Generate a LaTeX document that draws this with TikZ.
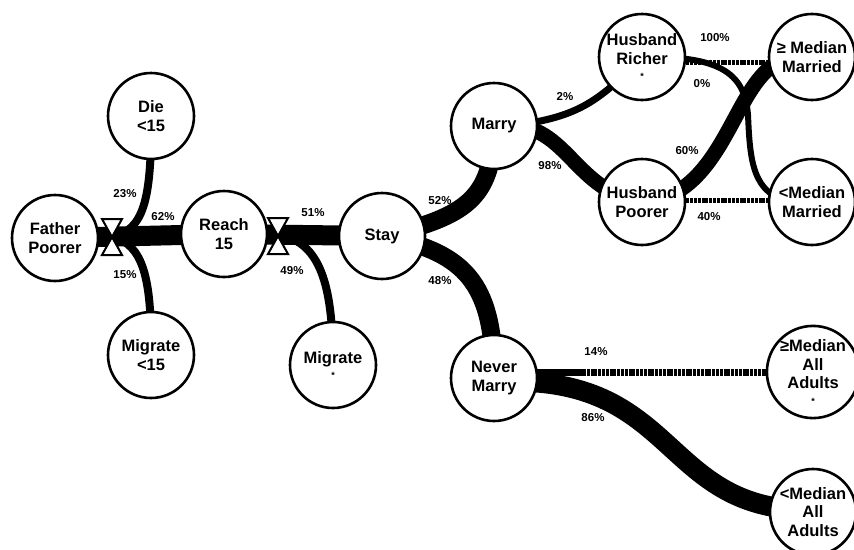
\documentclass[tikz,border=0pt]{standalone}
\usepackage{fontspec}
\setmainfont{Liberation Sans}
\usetikzlibrary{backgrounds}
\begin{document}
\begin{tikzpicture}[x=1pt,y=-1pt,
  state/.style={circle,draw,line width=2.6pt,fill=white,minimum size=86pt,inner sep=0pt,
    align=center,font=\fontsize{16.5}{18.5}\selectfont\bfseries},
  band/.style={line width=#1,line cap=butt},
  hatch/.style={line width=#1,dash pattern=on 3pt off 0.8pt},
  pct/.style={font=\fontsize{11.5}{13}\selectfont\bfseries},
  valve/.style={draw,fill=white,line width=2pt,line join=miter}]
\useasboundingbox (0,0) rectangle (854,549);
% nodes
\node[state] (fp) at (55,238) {Father\\Poorer};
\node[state] (die) at (151,116) {Die\\<15};
\node[state] (m15) at (151,355) {Migrate\\<15};
\node[state] (r15) at (224,234) {Reach\\15};
\node[state] (stay) at (382,236) {Stay};
\node[state] (mig) at (333,365) {Migrate\\[-3pt]{\fontsize{9}{9}\selectfont *}};
\node[state] (marry) at (494,126) {Marry};
\node[state] (nm) at (494,378) {Never\\Marry};
\node[state] (hr) at (642,57) {Husband\\Richer\\[-3pt]{\fontsize{9}{9}\selectfont *}};
\node[state] (hp) at (642,202) {Husband\\Poorer};
\node[state] (gmm) at (812,57) {≥ Median\\Married};
\node[state] (lmm) at (812,202) {<Median\\Married};
\node[state] (gaa) at (813,372) {≥Median\\All\\Adults\\[-3pt]{\fontsize{9}{9}\selectfont *}};
\node[state] (laa) at (813,512) {<Median\\All\\Adults};
\coordinate (v1) at (112,237);
\coordinate (v2) at (278,236);
% bands
\begin{scope}[on background layer]
\draw[band=20pt] (fp.center) -- (r15.center);
\draw[band=20pt] (r15.center) -- (stay.center);
\draw[band=8pt] ([xshift=2pt]v1) .. controls (142,228) and (152,205) .. (die.center);
\draw[band=8pt] ([xshift=2pt]v1) .. controls (142,246) and (152,275) .. (m15.center);
\draw[band=8pt] ([xshift=6pt]v2) .. controls (322,246) and (333,290) .. (mig.center);
\draw[band=18pt] ([shift={(15pt,3pt)}]stay.center) .. controls (468,214) and (493,196) .. (marry.center);
\draw[band=18pt] ([shift={(15pt,-3pt)}]stay.center) .. controls (468,256) and (494,288) .. (nm.center);
\draw[band=7pt] ([xshift=15pt]marry.center) .. controls (575,118) and (597,104) .. (hr.center);
\draw[band=15pt] ([xshift=15pt]marry.center) .. controls (567,124) and (575,192) .. (hp.center);
\draw[band=15pt] ([xshift=10pt]hp.center) .. controls (730,184) and (735,72) .. ([shift={(-25pt,-2pt)}]gmm.center);
\draw[band=6pt] ([xshift=10pt]hr.center) .. controls (722,57) and (745,75) .. (748,115)
   .. controls (750,160) and (752,195) .. ([xshift=-20pt]lmm.center);
\draw[hatch=5pt] ([yshift=-5pt]hr.east) -- ([yshift=-5pt]gmm.west);
\draw[hatch=5pt] ([yshift=2pt]hp.east) -- ([yshift=2pt]lmm.west);
\draw[band=20pt] ([shift={(6pt,-4pt)}]nm.center) .. controls (680,374) and (660,512) .. ([yshift=2pt]laa.center);
\draw[band=7pt] ([yshift=6pt]nm.center) -- (585,372);
\draw[hatch=7pt] (583,372) -- (gaa.west);
\end{scope}
% valves
\draw[valve] (102,219) -- (122,219) -- (v1) -- cycle;
\draw[valve] (102,255) -- (122,255) -- (v1) -- cycle;
\draw[valve] (268,218) -- (288,218) -- (v2) -- cycle;
\draw[valve] (268,254) -- (288,254) -- (v2) -- cycle;
% labels
\node[pct] at (125,194) {23\%};
\node[pct] at (163,217) {62\%};
\node[pct] at (125,275) {15\%};
\node[pct] at (313,213) {51\%};
\node[pct] at (292,271) {49\%};
\node[pct] at (440,201) {52\%};
\node[pct] at (440,281) {48\%};
\node[pct] at (565,97) {2\%};
\node[pct] at (550,166) {98\%};
\node[pct] at (715,38) {100\%};
\node[pct] at (702,84) {0\%};
\node[pct] at (687,151) {60\%};
\node[pct] at (709,217) {40\%};
\node[pct] at (596,352) {14\%};
\node[pct] at (593,418) {86\%};
\end{tikzpicture}
\end{document}
